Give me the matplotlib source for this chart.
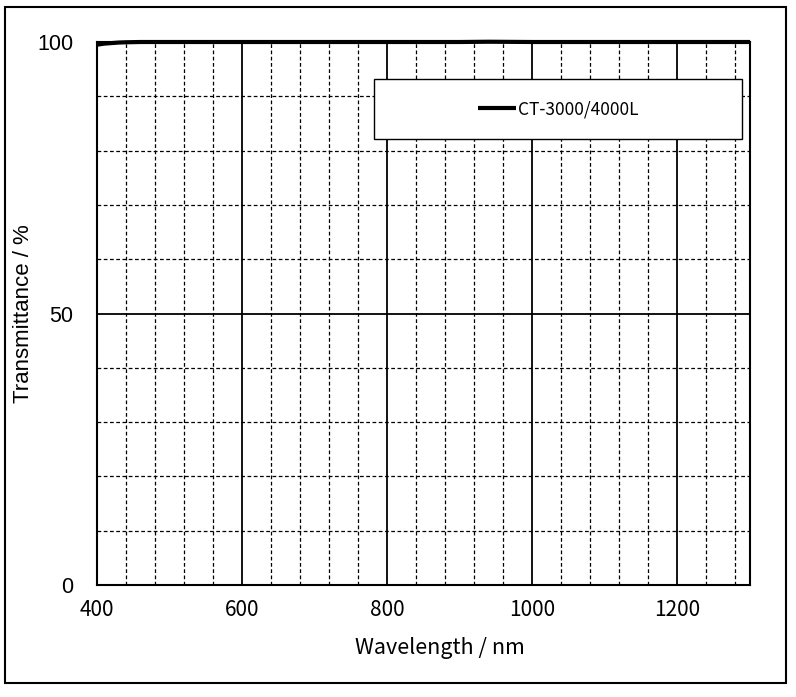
import matplotlib
matplotlib.use('Agg')
import matplotlib.pyplot as plt
from matplotlib.patches import Rectangle
import numpy as np

# transmittance curve
wavelength = [400, 410, 420, 430, 440, 460, 500, 600, 700, 800, 900, 940, 1000, 1100, 1200, 1300]
transmittance = [99.5, 99.7, 99.8, 99.9, 99.95, 100, 100, 100, 100, 100, 100, 100.05, 100, 100, 100, 100]
series_name = 'CT-3000/4000L'

x_ticks = [400, 600, 800, 1000, 1200]
y_ticks = [0, 50, 100]

narrow = ['Liberation Sans Narrow', 'Noto Sans CJK JP', 'DejaVu Sans']
arial = ['Liberation Sans', 'DejaVu Sans']

fig = plt.figure(figsize=(7.96, 6.97), dpi=100)
ax = fig.add_axes([97/796, 1 - 585/697, 653/796, 543/697])

ax.set_xlim(400, 1300)
ax.set_ylim(0, 100)

# grid: solid majors, dashed minors
ax.set_xticks(x_ticks)
ax.set_xticks(np.arange(440, 1300, 40), minor=True)
ax.set_yticks(y_ticks)
ax.set_yticks(np.arange(10, 100, 10), minor=True)
ax.grid(True, which='major', color='black', lw=1.3, ls='-')
ax.grid(True, which='minor', color='black', lw=0.9, ls=(0, (3, 2)))
ax.set_axisbelow(True)
ax.tick_params(which='both', length=0)
ax.tick_params(axis='x', pad=10)
ax.tick_params(axis='y', pad=17)
for lab in ax.get_xticklabels():
    lab.set_family(narrow)
    lab.set_fontsize(15)
for lab in ax.get_yticklabels():
    lab.set_family(arial)
    lab.set_fontsize(15.5)

for sp in ax.spines.values():
    sp.set_linewidth(1.5)
    sp.set_color('black')

line, = ax.plot(wavelength, transmittance, color='black', lw=3, clip_on=False,
                solid_capstyle='butt', label=series_name, zorder=5)

ax.set_xlabel('Wavelength / nm', family=narrow, fontsize=15.5)
ax.xaxis.set_label_coords((440 - 97) / 653, -0.095)
ax.set_ylabel('Transmittance / %', family=arial, fontsize=16)
ax.yaxis.set_label_coords((34 - 97) / 653, 0.5)

# legend box
box = (0.424, 0.821, 0.564, 0.111)
ax.add_patch(Rectangle(box[:2], box[2], box[3], transform=ax.transAxes,
                       facecolor='white', edgecolor='black', lw=1, zorder=6))
leg = ax.legend(loc='center', bbox_to_anchor=box, frameon=False, handlelength=2.2,
                handletextpad=0.1, prop={'family': narrow, 'size': 12.5})
leg.set_zorder(7)

# outer frame
fig.patches.append(Rectangle((5/796, 1 - 683/697), 781/796, 676/697,
                             transform=fig.transFigure, fill=False,
                             edgecolor='black', lw=1.5))

fig.savefig('out.png', dpi=100)
